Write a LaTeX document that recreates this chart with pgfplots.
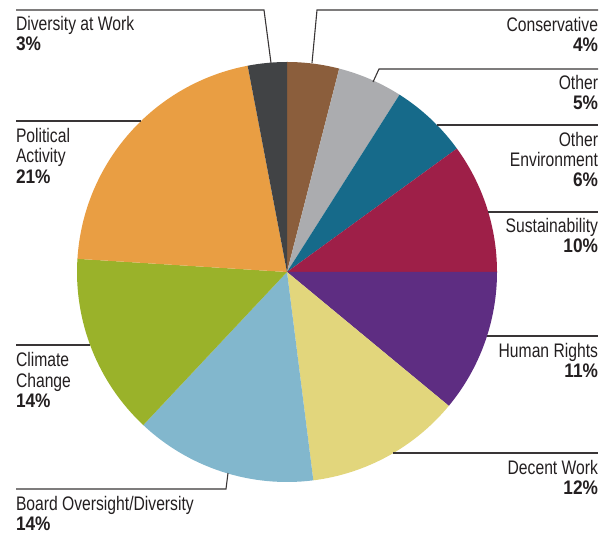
\documentclass[border=0pt]{standalone}
\usepackage{pgfplots}
\usepackage{pgfplotstable}
\pgfplotsset{compat=1.18}
\usepackage{fontspec}
\setmainfont{Liberation Sans}[FakeStretch=0.8, BoldFeatures={FakeStretch=0.88}]
\definecolor{c0}{HTML}{8B5E3C}
\definecolor{c1}{HTML}{ABACAF}
\definecolor{c2}{HTML}{166A8A}
\definecolor{c3}{HTML}{9E1F48}
\definecolor{c4}{HTML}{5E2D82}
\definecolor{c5}{HTML}{E2D67C}
\definecolor{c6}{HTML}{82B7CD}
\definecolor{c7}{HTML}{9AB22A}
\definecolor{c8}{HTML}{E99E43}
\definecolor{c9}{HTML}{414345}
\definecolor{txt}{HTML}{231F20}
\pgfplotstableread[col sep=comma]{
label,pct
Conservative,4
Other,5
Other Environment,6
Sustainability,10
Human Rights,11
Decent Work,12
Board Oversight/Diversity,14
Climate Change,14
Political Activity,21
Diversity at Work,3
}\piedata
\begin{document}
\begin{tikzpicture}[lbl/.style={inner sep=0pt, outer sep=0pt, text=txt, font=\fontsize{9.8}{10}\selectfont}]
\xdef\cum{90}
\foreach \i in {0,...,9}{%
  \pgfplotstablegetelem{\i}{pct}\of\piedata
  \pgfmathsetmacro\e{\cum-3.6*\pgfplotsretval}%
  \expandafter\xdef\csname sa\i\endcsname{\cum}%
  \expandafter\xdef\csname ea\i\endcsname{\e}%
  \xdef\cum{\e}%
}
\begin{axis}[
  scale only axis, width=304pt, height=266.5pt,
  xmin=0, xmax=608, ymin=0, ymax=533, y dir=reverse,
  enlargelimits=false, hide axis, clip=false,
]
\path (axis cs:0,0) rectangle (axis cs:608,533);
\pgfplotsinvokeforeach{0,...,9}{%
  \fill[c#1] (axis cs:287,272) -- ([shift={(\csname sa#1\endcsname:105pt)}]axis cs:287,272)
    arc[start angle=\csname sa#1\endcsname, end angle=\csname ea#1\endcsname, radius=105pt] -- cycle;
}
\begin{scope}[draw=txt!90, line width=0.55pt]
\draw (axis cs:16,10) -- (axis cs:264,10) -- (axis cs:271,63);
\draw (axis cs:312,63) -- (axis cs:317,10) -- (axis cs:598,10);
\draw (axis cs:373,82) -- (axis cs:379,69) -- (axis cs:598,69);
\draw (axis cs:437,125) -- (axis cs:598,125);
\draw (axis cs:488,212) -- (axis cs:598,212);
\draw (axis cs:487,336) -- (axis cs:598,336);
\draw (axis cs:393,453) -- (axis cs:598,453);
\draw (axis cs:228,473) -- (axis cs:226,489) -- (axis cs:16,489);
\draw (axis cs:16,345) -- (axis cs:90,345);
\draw (axis cs:16,121) -- (axis cs:141,121);
\end{scope}
% left labels
\node[lbl,anchor=base west] at (axis cs:16,31) {Diversity at Work};
\node[lbl,anchor=base west] at (axis cs:16,51) {\bfseries 3\%};
\node[lbl,anchor=base west] at (axis cs:16,143) {Political};
\node[lbl,anchor=base west] at (axis cs:16,163) {Activity};
\node[lbl,anchor=base west] at (axis cs:16,184) {\bfseries 21\%};
\node[lbl,anchor=base west] at (axis cs:16,366) {Climate};
\node[lbl,anchor=base west] at (axis cs:16,387) {Change};
\node[lbl,anchor=base west] at (axis cs:16,407) {\bfseries 14\%};
\node[lbl,anchor=base west] at (axis cs:16,510) {Board Oversight/Diversity};
\node[lbl,anchor=base west] at (axis cs:16,530) {\bfseries 14\%};
% right labels
\node[lbl,anchor=base east] at (axis cs:598,32) {Conservative};
\node[lbl,anchor=base east] at (axis cs:598,52) {\bfseries 4\%};
\node[lbl,anchor=base east] at (axis cs:598,90) {Other};
\node[lbl,anchor=base east] at (axis cs:598,110) {\bfseries 5\%};
\node[lbl,anchor=base east] at (axis cs:598,147) {Other};
\node[lbl,anchor=base east] at (axis cs:598,167) {Environment};
\node[lbl,anchor=base east] at (axis cs:598,187) {\bfseries 6\%};
\node[lbl,anchor=base east] at (axis cs:598,233) {Sustainability};
\node[lbl,anchor=base east] at (axis cs:598,253) {\bfseries 10\%};
\node[lbl,anchor=base east] at (axis cs:598,357) {Human Rights};
\node[lbl,anchor=base east] at (axis cs:598,377) {\bfseries 11\%};
\node[lbl,anchor=base east] at (axis cs:598,474) {Decent Work};
\node[lbl,anchor=base east] at (axis cs:598,494) {\bfseries 12\%};
\end{axis}
\end{tikzpicture}
\end{document}
